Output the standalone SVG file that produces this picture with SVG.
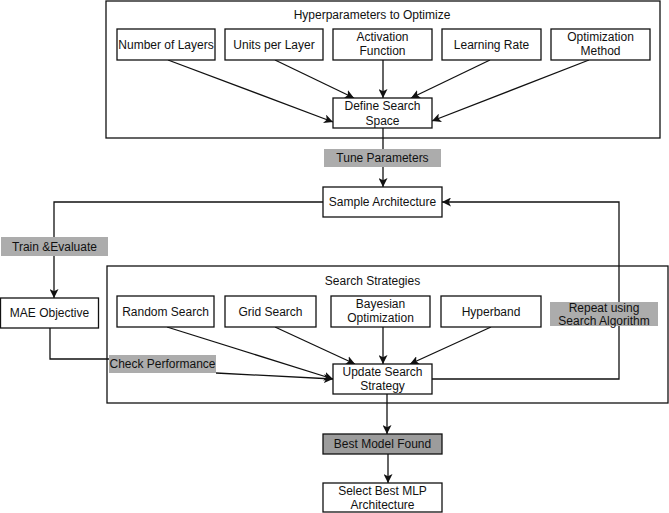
<svg xmlns="http://www.w3.org/2000/svg" width="669" height="513" viewBox="0 0 669 513">
<style>
  text { font-family: "Liberation Sans", Arial, sans-serif; font-size: 12px; fill: #111; text-anchor: middle; }
  .box { fill: #fff; stroke: #111; stroke-width: 1.3; }
  .cont { fill: none; stroke: #111; stroke-width: 1.3; }
  .lbl { fill: #acacac; stroke: none; }
  .dark { fill: #9c9c9c; stroke: #111; stroke-width: 1.3; }
  .edge { fill: none; stroke: #111; stroke-width: 1.3; }
</style>
<defs>
  <marker id="arr" viewBox="0 0 10 10" refX="10" refY="5" markerWidth="9" markerHeight="9" markerUnits="userSpaceOnUse" orient="auto">
    <path d="M0,0 L10,5 L0,10 L2.5,5 z" fill="#111"/>
  </marker>
</defs>
<rect width="669" height="513" fill="#fff"/>

<g id="container-hyper">
  <rect class="cont" x="106" y="1" width="554" height="137"/>
  <text x="372" y="19">Hyperparameters to Optimize</text>
</g>
<g id="container-search">
  <rect class="cont" x="107" y="266" width="561" height="137"/>
  <text x="372.5" y="285">Search Strategies</text>
</g>

<g id="connectors">
  <line class="edge" x1="168" y1="60" x2="333" y2="122" marker-end="url(#arr)"/>
  <line class="edge" x1="275" y1="60" x2="354" y2="98" marker-end="url(#arr)"/>
  <line class="edge" x1="383" y1="60" x2="383" y2="98" marker-end="url(#arr)"/>
  <line class="edge" x1="490" y1="60" x2="411" y2="98" marker-end="url(#arr)"/>
  <line class="edge" x1="589" y1="60" x2="432" y2="121" marker-end="url(#arr)"/>
  <line class="edge" x1="383" y1="128" x2="383" y2="150"/>
  <line class="edge" x1="383" y1="166" x2="383" y2="187" marker-end="url(#arr)"/>
  <polyline class="edge" points="323,202 54,202 54,298" marker-end="url(#arr)"/>
  <polyline class="edge" points="50,328 50,359 110,359"/>
  <line class="edge" x1="167" y1="327" x2="333" y2="379" marker-end="url(#arr)"/>
  <line class="edge" x1="275" y1="327" x2="355" y2="364" marker-end="url(#arr)"/>
  <line class="edge" x1="383" y1="327" x2="383" y2="364" marker-end="url(#arr)"/>
  <line class="edge" x1="491" y1="327" x2="410" y2="364" marker-end="url(#arr)"/>
  <line class="edge" x1="216" y1="373" x2="333" y2="379" marker-end="url(#arr)"/>
  <polyline class="edge" points="431,379 619,379 619,202 442,202" marker-end="url(#arr)"/>
  <line class="edge" x1="387" y1="394" x2="387" y2="434" marker-end="url(#arr)"/>
  <line class="edge" x1="388" y1="453" x2="388" y2="483" marker-end="url(#arr)"/>
</g>

<g id="n-layers"><rect class="box" x="117" y="29" width="98" height="31"/><text x="166" y="49">Number of Layers</text></g>
<g id="n-units"><rect class="box" x="225" y="29" width="98" height="31"/><text x="274" y="49">Units per Layer</text></g>
<g id="n-activation"><rect class="box" x="333" y="29" width="99" height="31"/><text x="382.5" y="41">Activation</text><text x="382.5" y="55">Function</text></g>
<g id="n-lr"><rect class="box" x="442" y="29" width="99" height="31"/><text x="491.5" y="49">Learning Rate</text></g>
<g id="n-opt"><rect class="box" x="551" y="29" width="99" height="31"/><text x="600.5" y="41">Optimization</text><text x="600.5" y="55">Method</text></g>

<g id="n-define"><rect class="box" x="333" y="98" width="99" height="30"/><text x="382.5" y="110">Define Search</text><text x="382.5" y="125">Space</text></g>

<g id="l-tune"><rect class="lbl" x="324" y="149" width="117" height="18"/><text x="382.5" y="162">Tune Parameters</text></g>

<g id="n-sample"><rect class="box" x="323" y="187" width="119" height="30"/><text x="382.5" y="206">Sample Architecture</text></g>

<g id="l-train"><rect class="lbl" x="1" y="237" width="107" height="19"/><text x="54.5" y="251">Train &amp;Evaluate</text></g>

<g id="n-mae"><rect class="box" x="0.5" y="298" width="98" height="30"/><text x="49.5" y="317">MAE Objective</text></g>

<g id="n-random"><rect class="box" x="117" y="296" width="97" height="31"/><text x="165.5" y="316">Random Search</text></g>
<g id="n-grid"><rect class="box" x="225" y="296" width="91" height="31"/><text x="270.5" y="316">Grid Search</text></g>
<g id="n-bayes"><rect class="box" x="331" y="296" width="99" height="31"/><text x="380.5" y="308">Bayesian</text><text x="380.5" y="322">Optimization</text></g>
<g id="n-hyperband"><rect class="box" x="441" y="296" width="100" height="31"/><text x="491" y="316">Hyperband</text></g>

<g id="l-repeat"><rect class="lbl" x="550" y="302" width="108" height="24"/><text x="604" y="312">Repeat using</text><text x="604" y="325">Search Algorithm</text></g>

<g id="l-check"><rect class="lbl" x="109" y="355" width="107" height="18"/><text x="162.5" y="368">Check Performance</text></g>

<g id="n-update"><rect class="box" x="333" y="364" width="99" height="30"/><text x="382.5" y="376">Update Search</text><text x="382.5" y="390">Strategy</text></g>

<g id="n-best"><rect class="dark" x="323" y="434" width="119" height="20"/><text x="382.5" y="448">Best Model Found</text></g>

<g id="n-select"><rect class="box" x="323" y="483" width="119" height="29"/><text x="382.5" y="495">Select Best MLP</text><text x="382.5" y="509">Architecture</text></g>
</svg>
